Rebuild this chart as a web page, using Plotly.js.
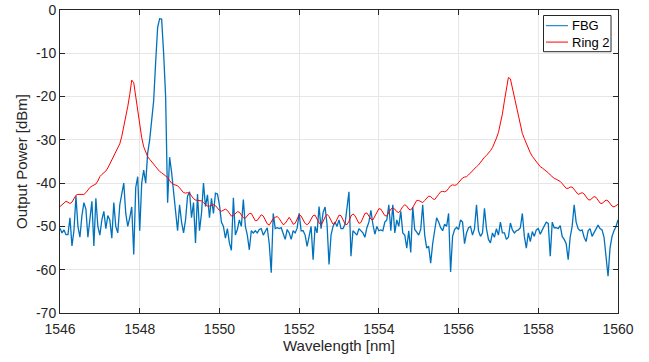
<!DOCTYPE html>
<html>
<head>
<meta charset="utf-8">
<script src="https://cdn.plot.ly/plotly-3.0.1.min.js"></script>
<style>
  html, body { margin: 0; padding: 0; background: #ffffff; }
  #chart { width: 649px; height: 362px; }
</style>
</head>
<body>
<div id="chart"></div>
<script>
// Sampling grid of the spectra (nm)
const wavelengthStart = 1546;
const wavelengthStep = 0.05;

// FBG output spectrum (dBm), one value per 0.05 nm from 1546 to 1560 nm
const fbgPower = [
  -50.4, -51.5, -50.8, -51.9, -51.9, -48.0, -54.5, -51.0, -43.0, -50.0,
  -52.5, -47.5, -44.5, -46.0, -52.5, -49.0, -44.2, -54.5, -43.5, -50.0,
  -52.0, -48.5, -46.5, -50.5, -47.5, -48.5, -52.7, -44.5, -50.0, -51.5,
  -45.0, -42.5, -40.0, -47.0, -50.0, -48.0, -45.5, -56.5, -41.0, -38.5,
  -51.0, -40.0, -37.0, -40.0, -33.0, -30.0, -25.0, -21.0, -12.0, -4.0,
  -2.0, -2.1, -10.0, -20.0, -44.5, -34.0, -37.5, -42.0, -47.7, -51.0,
  -45.0, -49.0, -51.5, -48.5, -43.0, -42.0, -48.0, -44.5, -53.8, -42.5,
  -51.0, -47.0, -40.0, -45.4, -42.7, -48.0, -43.5, -47.0, -42.3, -42.5,
  -45.0, -49.0, -50.0, -52.7, -50.5, -53.8, -55.5, -43.4, -52.0, -50.7,
  -48.5, -50.0, -43.8, -50.0, -52.0, -55.4, -51.0, -51.5, -51.0, -51.5,
  -50.7, -50.5, -52.0, -51.0, -50.3, -54.0, -60.7, -47.0, -50.5, -50.3,
  -50.5, -50.3, -51.5, -53.0, -50.7, -51.5, -53.0, -51.0, -51.5, -50.4,
  -47.0, -51.0, -51.0, -52.0, -54.6, -52.5, -50.0, -57.7, -50.0, -51.5,
  -45.4, -50.5, -46.8, -45.5, -49.5, -58.8, -52.0, -50.0, -49.0, -50.0,
  -48.5, -50.5, -50.5, -49.5, -45.4, -42.0, -56.9, -51.0, -51.5, -52.0,
  -50.5, -51.0, -51.5, -52.5, -50.3, -49.0, -46.3, -49.5, -51.8, -50.0,
  -51.0, -50.8, -51.0, -49.0, -48.5, -45.0, -51.0, -45.0, -51.5, -48.5,
  -50.0, -46.5, -51.5, -52.0, -55.0, -51.0, -56.0, -45.5, -50.7, -51.3,
  -52.0, -50.7, -45.0, -52.0, -55.0, -54.6, -58.5, -54.0, -51.0, -48.0,
  -49.0, -50.3, -51.0, -49.5, -50.0, -47.0, -60.5, -52.3, -50.7, -50.2,
  -50.7, -48.5, -49.0, -54.0, -51.5, -50.3, -50.0, -52.0, -50.5, -45.0,
  -51.0, -52.3, -51.5, -45.8, -50.5, -53.0, -53.8, -51.5, -52.5, -50.5,
  -52.0, -49.0, -51.5, -51.5, -53.0, -52.5, -49.2, -50.8, -51.5, -51.0,
  -50.8, -50.3, -47.0, -52.3, -55.0, -51.5, -53.5, -51.2, -52.3, -50.8,
  -50.5, -51.8, -50.8, -50.0, -49.0, -49.3, -56.9, -49.0, -50.3, -50.3,
  -50.5, -49.8, -52.3, -53.0, -54.0, -57.7, -52.5, -50.0, -45.0, -49.0,
  -50.5, -51.0, -50.8, -52.5, -53.5, -51.0, -50.5, -52.3, -51.3, -50.5,
  -49.7, -50.5, -50.8, -52.5, -57.0, -61.5, -55.0, -52.3, -51.0, -50.0,
  -48.5
];

// Ring 2 output spectrum (dBm), one value per 0.05 nm from 1546 to 1560 nm
const ring2Power = [
  -45.4, -45.0, -44.5, -44.2, -44.4, -44.7, -44.4, -43.5, -42.8, -42.6,
  -42.6, -42.7, -42.6, -42.2, -41.5, -41.0, -40.7, -40.4, -40.2, -39.5,
  -38.5, -38.0, -37.6, -37.2, -36.5, -35.6, -34.8, -33.8, -33.0, -32.0,
  -30.9, -29.2, -27.0, -24.8, -22.3, -19.5, -16.2, -16.8, -20.3, -23.8,
  -27.3, -29.5, -31.6, -33.0, -33.9, -34.5, -35.2, -35.6, -36.2, -36.8,
  -37.3, -37.6, -38.0, -38.3, -38.7, -39.4, -40.0, -40.3, -40.4, -40.6,
  -41.1, -41.6, -42.2, -42.3, -42.2, -42.3, -42.9, -43.6, -43.9, -44.0,
  -44.0, -44.1, -44.5, -45.0, -45.3, -45.3, -45.2, -45.0, -45.2, -45.8,
  -46.3, -46.5, -46.2, -46.0, -46.3, -47.0, -47.6, -47.5, -47.0, -46.6,
  -46.7, -47.3, -48.0, -48.1, -47.6, -47.0, -47.0, -47.8, -48.7, -48.6,
  -47.8, -47.3, -47.6, -48.5, -49.4, -49.7, -49.0, -48.2, -47.9, -47.7,
  -48.2, -49.0, -49.6, -49.3, -48.5, -47.9, -48.6, -49.5, -49.3, -48.1,
  -47.3, -47.6, -48.5, -49.3, -49.6, -49.2, -48.3, -47.5, -47.4, -48.2,
  -49.2, -49.6, -48.9, -47.8, -47.2, -47.7, -48.7, -49.5, -49.3, -48.3,
  -47.4, -47.5, -48.4, -49.4, -49.6, -48.8, -47.6, -47.1, -47.5, -48.5,
  -49.3, -49.1, -48.0, -47.0, -46.9, -47.5, -48.3, -48.5, -47.6, -46.5,
  -45.9, -46.0, -46.8, -47.5, -47.6, -46.9, -46.0, -45.7, -46.0, -46.6,
  -46.8, -46.2, -45.4, -45.0, -45.3, -46.0, -46.2, -45.6, -44.6, -44.0,
  -44.0, -44.3, -44.5, -44.0, -43.4, -43.0, -43.1, -43.6, -43.8, -43.3,
  -42.6, -42.0, -41.9, -42.0, -41.8, -41.2, -40.6, -40.4, -40.5, -40.4,
  -39.8, -39.2, -38.8, -38.6, -38.5, -38.1, -37.6, -37.0, -36.5, -36.2,
  -35.8, -35.2, -34.5, -34.0, -33.6, -33.1, -32.5, -31.8, -30.8, -29.6,
  -28.3, -26.5, -24.0, -21.0, -18.0, -15.6, -15.9, -18.0, -20.8, -22.8,
  -24.8, -26.8, -28.5, -29.7, -30.8, -32.1, -33.0, -33.8, -34.4, -34.9,
  -35.6, -36.2, -36.5, -36.8, -37.2, -37.6, -38.1, -38.6, -38.9, -39.1,
  -39.3, -39.6, -40.1, -40.8, -41.2, -41.2, -40.9, -40.9, -41.5, -42.2,
  -42.6, -42.4, -42.2, -42.5, -43.2, -43.8, -43.9, -43.4, -43.1, -43.3,
  -44.0, -44.6, -44.7, -44.2, -43.9, -44.1, -44.7, -45.3, -45.5, -45.1,
  -44.9
];

const seriesNames = ['FBG', 'Ring 2'];
const seriesColors = ['#0072BD', '#FF0000'];
const xTickValues = [1546, 1548, 1550, 1552, 1554, 1556, 1558, 1560];
const yTickValues = [0, -10, -20, -30, -40, -50, -60, -70];

function wavelengthsFor(n) {
  const w = [];
  for (let i = 0; i < n; i++) w.push(+(wavelengthStart + i * wavelengthStep).toFixed(3));
  return w;
}

const FONT = 'Liberation Sans, Arial, Helvetica, sans-serif';
const AXIS_COLOR = '#262626';
const GRID_COLOR = '#e6e6e6';

const traces = [
  {
    x: wavelengthsFor(fbgPower.length),
    y: fbgPower,
    type: 'scatter',
    mode: 'lines',
    name: seriesNames[0],
    line: { color: seriesColors[0], width: 1.3 }
  },
  {
    x: wavelengthsFor(ring2Power.length),
    y: ring2Power,
    type: 'scatter',
    mode: 'lines',
    name: seriesNames[1],
    line: { color: seriesColors[1], width: 1 }
  }
];

// MATLAB-style compact legend box (top right, inside the axes)
const legendBox = { x0: 0.8665, x1: 0.9875, y0: 0.8624, y1: 0.9818 };
const legendRows = [0.9482, 0.8941];
const legendLine = { x0: 0.8710, x1: 0.9104 };
const legendTextX = 0.9135;

const shapes = [
  {
    type: 'rect', xref: 'paper', yref: 'paper',
    x0: legendBox.x0, x1: legendBox.x1, y0: legendBox.y0, y1: legendBox.y1,
    line: { color: AXIS_COLOR, width: 1 }, fillcolor: '#ffffff', layer: 'above'
  }
];
const annotations = [];
seriesNames.forEach((name, k) => {
  shapes.push({
    type: 'line', xref: 'paper', yref: 'paper',
    x0: legendLine.x0, x1: legendLine.x1, y0: legendRows[k], y1: legendRows[k],
    line: { color: seriesColors[k], width: 1 }, layer: 'above'
  });
  annotations.push({
    xref: 'paper', yref: 'paper', x: legendTextX, y: legendRows[k],
    xanchor: 'left', yanchor: 'middle', showarrow: false, text: name,
    font: { family: FONT, size: 13, color: '#000000' }
  });
});

const layout = {
  width: 649,
  height: 362,
  margin: { l: 60, r: 31, t: 10, b: 49 },
  paper_bgcolor: '#ffffff',
  plot_bgcolor: '#ffffff',
  font: { family: FONT, size: 14, color: AXIS_COLOR },
  showlegend: false,
  shapes: shapes,
  annotations: annotations,
  xaxis: {
    range: [1546, 1560],
    tickvals: xTickValues,
    ticktext: xTickValues.map(String),
    ticks: 'inside',
    ticklen: 5,
    tickcolor: AXIS_COLOR,
    ticklabelstandoff: 3,
    showline: true,
    linecolor: AXIS_COLOR,
    linewidth: 1,
    mirror: 'ticks',
    showgrid: true,
    gridcolor: GRID_COLOR,
    zeroline: false,
    tickfont: { family: FONT, size: 14, color: AXIS_COLOR },
    title: { text: 'Wavelength [nm]', font: { family: FONT, size: 15, color: AXIS_COLOR }, standoff: 3 }
  },
  yaxis: {
    range: [-70, 0],
    tickvals: yTickValues,
    ticktext: yTickValues.map(String),
    ticks: 'inside',
    ticklen: 5,
    tickcolor: AXIS_COLOR,
    showline: true,
    linecolor: AXIS_COLOR,
    linewidth: 1,
    mirror: 'ticks',
    showgrid: true,
    gridcolor: GRID_COLOR,
    zeroline: false,
    tickfont: { family: FONT, size: 14, color: AXIS_COLOR },
    title: { text: 'Output Power [dBm]', font: { family: FONT, size: 15, color: AXIS_COLOR }, standoff: 4 }
  }
};

Plotly.newPlot('chart', traces, layout, { displayModeBar: false, staticPlot: true });
</script>
</body>
</html>
